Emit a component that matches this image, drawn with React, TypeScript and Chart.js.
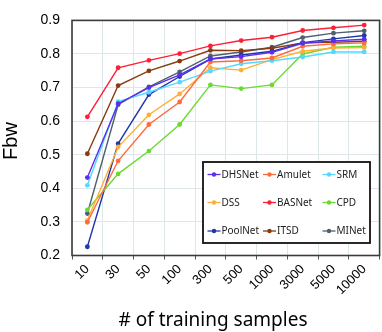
import React, { useEffect, useRef } from "react";
import { Chart, registerables } from "chart.js";

Chart.register(...registerables);

const categories = ["10", "30", "50", "100", "300", "500", "1000", "3000", "5000", "10000"];

const seriesNames = ["DHSNet", "Amulet", "SRM", "DSS", "BASNet", "CPD", "PoolNet", "ITSD", "MINet"];

const dhsnet = [0.432, 0.652, 0.700, 0.738, 0.785, 0.792, 0.805, 0.832, 0.839, 0.844];
const amulet = [0.299, 0.482, 0.590, 0.657, 0.776, 0.780, 0.788, 0.823, 0.830, 0.833];
const srm = [0.409, 0.658, 0.686, 0.716, 0.749, 0.771, 0.780, 0.791, 0.806, 0.806];
const dss = [0.304, 0.523, 0.619, 0.681, 0.759, 0.752, 0.783, 0.808, 0.818, 0.819];
const basnet = [0.613, 0.759, 0.781, 0.801, 0.824, 0.840, 0.850, 0.870, 0.878, 0.886];
const cpd = [0.336, 0.443, 0.511, 0.590, 0.708, 0.697, 0.708, 0.800, 0.820, 0.823];
const poolnet = [0.226, 0.533, 0.679, 0.733, 0.785, 0.797, 0.808, 0.834, 0.845, 0.855];
const itsd = [0.503, 0.706, 0.750, 0.779, 0.811, 0.810, 0.817, 0.833, 0.835, 0.838];
const minet = [0.325, 0.649, 0.702, 0.747, 0.794, 0.806, 0.820, 0.849, 0.862, 0.869];

const seriesValues = [dhsnet, amulet, srm, dss, basnet, cpd, poolnet, itsd, minet];
const seriesColors = [
  "#5a2ef0",
  "#ff6a3c",
  "#55d8ff",
  "#ffae35",
  "#ff1f35",
  "#6cd932",
  "#1f38a8",
  "#8a3a10",
  "#4f5f6c",
];

const yTicks = [0.2, 0.3, 0.4, 0.5, 0.6, 0.7, 0.8, 0.9];
const yTitle = "Fbw";
const xTitle = "# of training samples";

const decorPlugin = {
  id: "decor",
  afterDraw(chart: any) {
    const ctx = chart.ctx;
    const a = chart.chartArea;
    ctx.save();
    // plot frame
    ctx.strokeStyle = "#3a3a3a";
    ctx.lineWidth = 1.6;
    ctx.strokeRect(a.left, a.top, a.right - a.left, a.bottom - a.top);

    // axis titles
    ctx.fillStyle = "#000";
    ctx.font = '20px "Liberation Sans", Arial, sans-serif';
    ctx.textAlign = "center";
    ctx.textBaseline = "alphabetic";
    ctx.save();
    ctx.translate(16.5, 141);
    ctx.rotate(-Math.PI / 2);
    ctx.fillText(yTitle, 0, 0);
    ctx.restore();

    ctx.font = '19px "Noto Sans", sans-serif';
    ctx.fillText(xTitle, 213, 326);

    // legend box
    const lx = 203, ly = 162, lw = 167, lh = 81;
    ctx.fillStyle = "#fff";
    ctx.fillRect(lx, ly, lw, lh);
    ctx.strokeStyle = "#111";
    ctx.lineWidth = 1.8;
    ctx.strokeRect(lx, ly, lw, lh);

    const colX = [207.5, 263, 322.5];
    const rowY = [174.5, 202.5, 231];
    ctx.font = '10px "Noto Sans", sans-serif';
    ctx.textAlign = "left";
    ctx.textBaseline = "middle";
    chart.data.datasets.forEach((ds: any, i: number) => {
      const cx = colX[i % 3];
      const cy = rowY[Math.floor(i / 3)];
      ctx.strokeStyle = ds.borderColor;
      ctx.lineWidth = 1.3;
      ctx.beginPath();
      ctx.moveTo(cx, cy);
      ctx.lineTo(cx + 13, cy);
      ctx.stroke();
      ctx.fillStyle = ds.borderColor;
      ctx.beginPath();
      ctx.arc(cx + 6.5, cy, 2.2, 0, Math.PI * 2);
      ctx.fill();
      ctx.fillStyle = "#222";
      ctx.fillText(ds.label, cx + 14, cy + 0.5);
    });
    ctx.restore();
  },
};

export default function App() {
  const ref = useRef<HTMLCanvasElement>(null);
  useEffect(() => {
    if (!ref.current) return;
    const chart = new Chart(ref.current, {
      type: "line",
      data: {
        labels: categories,
        datasets: seriesNames.map((name, i) => ({
          label: name,
          data: seriesValues[i],
          borderColor: seriesColors[i],
          backgroundColor: seriesColors[i],
          borderWidth: 1.4,
          pointRadius: 2.4,
          pointHoverRadius: 2.4,
          pointBorderWidth: 0,
          tension: 0,
          fill: false,
        })),
      },
      options: {
        animation: false,
        responsive: false,
        devicePixelRatio: 1,
        layout: { padding: { top: 7, right: 1.5, left: 0, bottom: 0 } },
        plugins: {
          legend: { display: false },
          tooltip: { enabled: false },
        },
        scales: {
          x: {
            type: "category",
            offset: true,
            grid: {
              offset: true,
              color: "#dde6e8",
              lineWidth: 1,
              drawTicks: true,
              tickLength: 4,
              tickColor: "#555",
            },
            border: { display: false },
            ticks: {
              autoSkip: false,
              minRotation: 45,
              maxRotation: 45,
              padding: 2,
              color: "#000",
              font: { family: '"Liberation Sans", Arial, sans-serif', size: 13 },
            },
            afterFit: (scale: any) => {
              scale.height = 76.5;
            },
          },
          y: {
            min: 0.2,
            max: 0.9,
            afterBuildTicks: (scale: any) => {
              scale.ticks = yTicks.map((v) => ({ value: v }));
            },
            grid: { color: "#dde6e8", lineWidth: 1, drawTicks: false },
            border: { display: false },
            ticks: {
              padding: 12,
              color: "#000",
              font: { family: '"Liberation Sans", Arial, sans-serif', size: 14 },
              callback: (v: any) => Number(v).toFixed(1),
            },
            afterFit: (scale: any) => {
              scale.width = 72;
            },
          },
        },
      },
      plugins: [decorPlugin],
    });
    return () => chart.destroy();
  }, []);
  return (
    <div style={{ position: "absolute", left: 0, top: 0, width: 382, height: 332, background: "#fff" }}>
      <canvas ref={ref} width={382} height={332} style={{ display: "block" }} />
    </div>
  );
}
